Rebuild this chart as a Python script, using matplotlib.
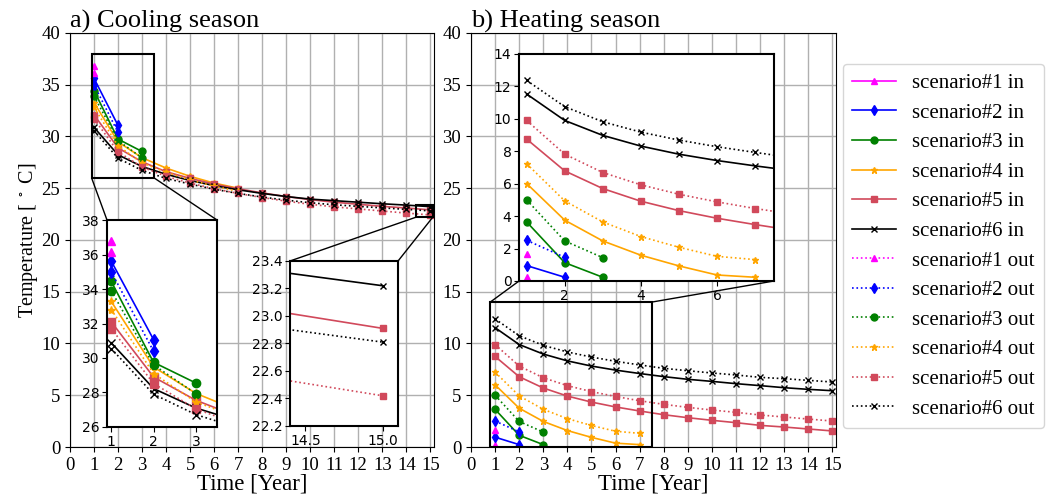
import numpy as np
import matplotlib
matplotlib.use('Agg')
from matplotlib import pyplot as plt
from matplotlib.patches import Rectangle, ConnectionPatch

plt.rcParams['font.family'] = ['Liberation Serif', 'DejaVu Serif']
plt.rcParams['mathtext.fontset'] = 'stix'

years = np.arange(1, 16)
labels = ['scenario#1', 'scenario#2', 'scenario#3', 'scenario#4', 'scenario#5', 'scenario#6']
colors = ['#ff00ff', '#0000ff', '#008000', '#ffa500', '#d1495b', '#000000']
markers = ['^', 'd', 'o', '*', 's', 'x']

# cooling season, temperature per year
cool_in = [
    [36.8],
    [35.62, 31.07],
    [34.44, 29.75, 28.55],
    [33.28, 29.48, 27.95, 26.95, 26.15, 25.5, 25.0],
    [32.1, 28.9, 27.55, 26.6, 25.95, 25.4, 24.95, 24.55, 24.2, 23.9, 23.65, 23.45, 23.25, 23.09, 22.91],
    [30.88, 28.23, 27.1, 26.35, 25.75, 25.25, 24.85, 24.5, 24.2, 23.95, 23.8, 23.65, 23.5, 23.37, 23.22],
]
cool_out = [
    [36.12],
    [35.0, 30.39],
    [33.9, 29.6, 27.93],
    [32.81, 29.1, 27.45, 26.55, 25.8, 25.2, 24.7],
    [31.71, 28.52, 27.05, 26.15, 25.5, 24.95, 24.5, 24.1, 23.75, 23.45, 23.2, 23.0, 22.8, 22.6, 22.42],
    [30.55, 27.9, 26.72, 25.95, 25.4, 24.9, 24.5, 24.15, 23.85, 23.6, 23.4, 23.25, 23.1, 22.96, 22.81],
]

# heating season
heat_in = [
    [0.23],
    [0.95, 0.23],
    [3.64, 1.13, 0.23],
    [6.01, 3.75, 2.47, 1.59, 0.93, 0.37, 0.23],
    [8.75, 6.79, 5.7, 4.92, 4.34, 3.87, 3.48, 3.12, 2.83, 2.58, 2.35, 2.09, 1.93, 1.74, 1.55],
    [11.53, 9.9, 8.98, 8.32, 7.82, 7.43, 7.1, 6.8, 6.54, 6.34, 6.12, 5.93, 5.73, 5.57, 5.44],
]
heat_out = [
    [1.67],
    [2.51, 1.46],
    [5.0, 2.47, 1.44],
    [7.23, 4.94, 3.64, 2.74, 2.08, 1.52, 1.32],
    [9.9, 7.82, 6.69, 5.93, 5.35, 4.88, 4.47, 4.12, 3.83, 3.57, 3.35, 3.09, 2.9, 2.7, 2.51],
    [12.37, 10.75, 9.82, 9.18, 8.69, 8.28, 7.93, 7.6, 7.37, 7.15, 6.96, 6.73, 6.6, 6.44, 6.28],
]


def draw_lines(ax, data_in, data_out, ms=5):
    for i in range(6):
        v = data_in[i]
        ax.plot(years[:len(v)], v, color=colors[i], marker=markers[i], ls='-',
                lw=1.2, markersize=ms, label=labels[i] + ' in')
    for i in range(6):
        v = data_out[i]
        ax.plot(years[:len(v)], v, color=colors[i], marker=markers[i], ls=':',
                lw=1.2, markersize=ms, label=labels[i] + ' out')


def connect(fig, ax, axins, pA, pB):
    con = ConnectionPatch(xyA=pA, coordsA=ax.transData, xyB=pB, coordsB=axins.transAxes,
                          color='black', lw=1.0)
    fig.add_artist(con)


fig = plt.figure(figsize=(10.52, 4.99), dpi=100)

ax1 = fig.add_axes([0.0665, 0.1042, 0.346, 0.8297])
ax2 = fig.add_axes([0.4477, 0.1042, 0.347, 0.8297])

for ax, d_in, d_out, title in [(ax1, cool_in, cool_out, 'a) Cooling season'),
                               (ax2, heat_in, heat_out, 'b) Heating season')]:
    draw_lines(ax, d_in, d_out)
    ax.set_xlim(0, 15.15)
    ax.set_ylim(0, 40)
    ax.set_xticks(np.arange(0, 16, 1))
    ax.set_yticks(np.arange(0, 41, 5))
    ax.grid(True, color='#b0b0b0', lw=1.0)
    ax.tick_params(labelsize=13.5)
    ax.set_xlabel('Time [Year]', fontsize=16.5, labelpad=0)
    ax.set_title(title, loc='left', fontsize=19, pad=2)
ax1.set_ylabel(r'Temperature [ $^\circ$ C]', fontsize=14.5, labelpad=1)

inset_font = ['DejaVu Sans']

# cooling inset 1
ins1 = fig.add_axes([0.1017, 0.1443, 0.1046, 0.4148])
draw_lines(ins1, cool_in, cool_out, ms=6)
ins1.set_xlim(0.9, 3.5)
ins1.set_ylim(26, 38)
ins1.set_xticks([1, 2, 3])
ins1.set_yticks(np.arange(26, 39, 2))

# cooling inset 2
ins2 = fig.add_axes([0.2757, 0.1463, 0.1027, 0.3307])
draw_lines(ins2, cool_in, cool_out)
ins2.set_xlim(14.4, 15.1)
ins2.set_ylim(22.2, 23.4)
ins2.set_xticks([14.5, 15.0])
ins2.set_yticks(np.arange(22.2, 23.41, 0.2))

# heating inset
ins3 = fig.add_axes([0.4934, 0.4369, 0.2424, 0.4549])
draw_lines(ins3, heat_in, heat_out)
ins3.set_xlim(0.8, 7.5)
ins3.set_ylim(0, 14)
ins3.set_xticks([2, 4, 6])
ins3.set_yticks(np.arange(0, 15, 2))

for ins in (ins1, ins2, ins3):
    ins.set_facecolor('white')
    for s in ins.spines.values():
        s.set_linewidth(1.5)
    ins.tick_params(labelsize=10, pad=2)
    for lab in ins.get_xticklabels() + ins.get_yticklabels():
        lab.set_family(inset_font)

# zoom boxes and connectors
for ax, ins, (x0, x1, y0, y1), pairs in [
        (ax1, ins1, (0.9, 3.5, 26, 38), [((0.9, 26), (0, 1)), ((3.5, 26), (1, 1))]),
        (ax1, ins2, (14.4, 15.1, 22.2, 23.4), [((14.4, 22.2), (0, 1)), ((15.1, 22.2), (1, 1))]),
        (ax2, ins3, (0.8, 7.5, 0, 14), [((0.8, 14), (0, 0)), ((7.5, 14), (1, 0))])]:
    ax.add_patch(Rectangle((x0, y0), x1 - x0, y1 - y0, fill=False, ec='black', lw=1.5, zorder=5))
    for pA, pB in pairs:
        connect(fig, ax, ins, pA, pB)

handles, leg_labels = ax1.get_legend_handles_labels()
fig.legend(handles, leg_labels, loc='center left', bbox_to_anchor=(0.801, 0.507),
           fontsize=15, labelspacing=0.48, handlelength=2.1, handletextpad=0.8,
           borderpad=0.45, borderaxespad=0)

fig.savefig('out.png', dpi=100)
